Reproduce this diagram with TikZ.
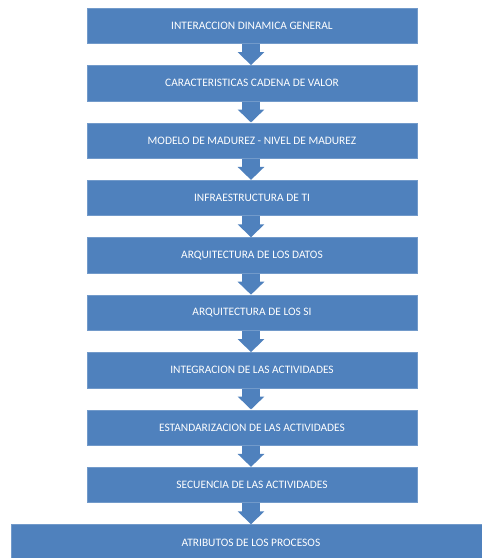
\documentclass[tikz,border=0pt]{standalone}
\usepackage{fontspec}
\setmainfont{Carlito}
\usetikzlibrary{arrows.meta}
\definecolor{boxblue}{HTML}{4F81BD}
\tikzset{
  stepbox/.style={fill=boxblue, draw=boxblue!80!white, line width=0.6pt, minimum width=330pt, minimum height=35.5pt, inner sep=0pt, text=white, font=\fontsize{11.4}{13}\selectfont},
  widebox/.style={stepbox, minimum width=480pt},
  flowarrow/.style={draw=boxblue, line width=18pt, -{Triangle[width=26pt,length=13pt,fill=boxblue]}, shorten <=0.3pt}
}
\begin{document}
\begin{tikzpicture}[x=1pt,y=1pt]
\useasboundingbox (0,0) rectangle (482,-558);
\begin{scope}
\clip (0,0) rectangle (482,-558);
\node[stepbox] (b0) at (252,-25.75) {INTERACCION DINAMICA GENERAL};
\node[stepbox] (b1) at (252,-83.15) {CARACTERISTICAS CADENA DE VALOR};
\node[stepbox] (b2) at (252,-140.55) {MODELO DE MADUREZ - NIVEL DE MADUREZ};
\node[stepbox] (b3) at (252,-197.95) {INFRAESTRUCTURA DE TI};
\node[stepbox] (b4) at (252,-255.35) {ARQUITECTURA DE LOS DATOS};
\node[stepbox] (b5) at (252,-312.75) {ARQUITECTURA DE LOS SI};
\node[stepbox] (b6) at (252,-370.15) {INTEGRACION DE LAS ACTIVIDADES};
\node[stepbox] (b7) at (252,-427.55) {ESTANDARIZACION DE LAS ACTIVIDADES};
\node[stepbox] (b8) at (252,-484.95) {SECUENCIA DE LAS ACTIVIDADES};
\node[widebox] (b9) at (251,-542.35) {ATRIBUTOS DE LOS PROCESOS};
\foreach \i/\j in {0/1,1/2,2/3,3/4,4/5,5/6,6/7,7/8}{
  \draw[flowarrow] ([xshift=-1pt]b\i.south) -- ([xshift=-1pt]b\j.north);
}
\draw[flowarrow] ([xshift=-1pt]b8.south) -- (b9.north);
\end{scope}
\end{tikzpicture}
\end{document}
